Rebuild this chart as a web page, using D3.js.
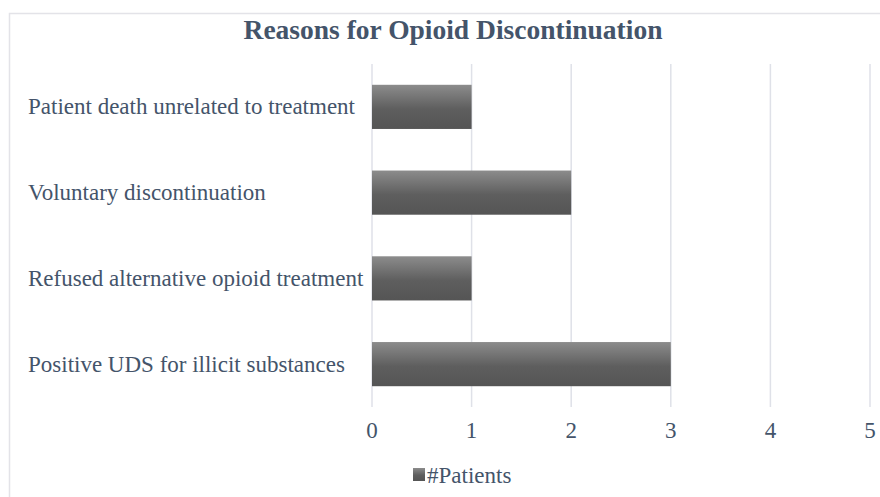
<!DOCTYPE html>
<html>
<head>
<meta charset="utf-8">
<script src="https://cdn.jsdelivr.net/npm/d3@7"></script>
<style>
  body { margin: 0; background: #fff; }
  text { font-family: "Liberation Serif", "Times New Roman", serif; fill: #44546a; }
</style>
</head>
<body>
<div id="chart"></div>
<script>
var categories = ["Patient death unrelated to treatment", "Voluntary discontinuation",
                  "Refused alternative opioid treatment", "Positive UDS for illicit substances"];
var patients = [1, 2, 1, 3];
var xTicks = [0, 1, 2, 3, 4, 5];
var seriesName = "#Patients";

var width = 880, height = 497;
var margin = {top: 64, right: 10, bottom: 90, left: 372};

var svg = d3.select("#chart")
    .append("svg")
    .attr("width", width)
    .attr("height", height);

var defs = svg.append("defs");
var grad = defs.append("linearGradient")
    .attr("id", "barGrad")
    .attr("x1", 0).attr("y1", 0).attr("x2", 0).attr("y2", 1);
grad.append("stop").attr("offset", "0%").attr("stop-color", "#8c8c8c");
grad.append("stop").attr("offset", "55%").attr("stop-color", "#5e5e5e");
grad.append("stop").attr("offset", "100%").attr("stop-color", "#555555");

// chart border (top + left only visible)
svg.append("path")
    .attr("d", "M9.5," + height + "V13.5H" + width)
    .attr("fill", "none")
    .attr("stroke", "#e3e3e8")
    .attr("stroke-width", 1.5);

var x = d3.scaleLinear()
    .domain([0, 5])
    .range([margin.left, 870]);

var y = d3.scaleBand()
    .domain(categories)
    .range([margin.top, height - margin.bottom])
    .paddingInner(0.485)
    .paddingOuter(0.2425);

// gridlines
svg.append("g")
    .selectAll("line")
    .data(xTicks)
    .enter()
    .append("line")
    .attr("x1", function(d) { return x(d); })
    .attr("x2", function(d) { return x(d); })
    .attr("y1", margin.top)
    .attr("y2", height - margin.bottom)
    .attr("stroke", "#dfe1e8")
    .attr("stroke-width", 1.5);

// bars
svg.append("g")
    .selectAll("rect")
    .data(patients)
    .enter()
    .append("rect")
    .attr("x", x(0))
    .attr("y", function(d, i) { return y(categories[i]); })
    .attr("width", function(d) { return x(d) - x(0); })
    .attr("height", y.bandwidth())
    .attr("fill", "url(#barGrad)");

// category labels
svg.append("g")
    .selectAll("text")
    .data(categories)
    .enter()
    .append("text")
    .attr("x", 28)
    .attr("y", function(d) { return y(d) + y.bandwidth() / 2; })
    .attr("dy", "0.33em")
    .style("font-size", "23px")
    .text(function(d) { return d; });

// x tick labels
svg.append("g")
    .selectAll("text")
    .data(xTicks)
    .enter()
    .append("text")
    .attr("x", function(d) { return x(d); })
    .attr("y", 438)
    .attr("text-anchor", "middle")
    .style("font-size", "23px")
    .text(function(d) { return d; });

// title
svg.append("text")
    .attr("x", 453)
    .attr("y", 39)
    .attr("text-anchor", "middle")
    .style("font-size", "27.5px")
    .style("font-weight", "bold")
    .text("Reasons for Opioid Discontinuation");

// legend
var legend = svg.append("g");
legend.append("rect")
    .attr("x", 413)
    .attr("y", 468)
    .attr("width", 12)
    .attr("height", 13)
    .attr("fill", "url(#barGrad)");
legend.append("text")
    .attr("x", 427)
    .attr("y", 483)
    .style("font-size", "23px")
    .text(seriesName);
</script>
</body>
</html>
